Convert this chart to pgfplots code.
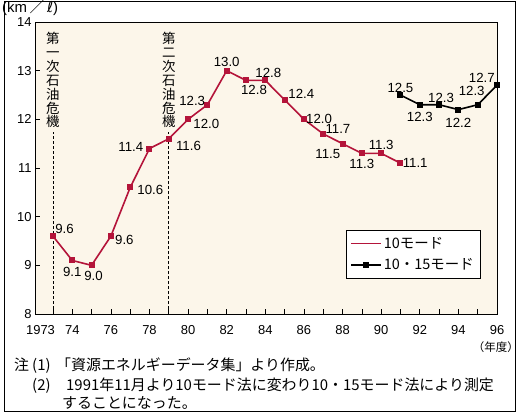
\documentclass[border=0pt]{standalone}
\usepackage{fontspec}
\setmainfont{Liberation Sans}
\newfontfamily\cjk{Noto Sans CJK JP}
\newfontfamily\dejavu{DejaVu Sans}
\usepackage{pgfplots}
\usepackage{pgfplotstable}
\pgfplotsset{compat=1.18}

\definecolor{tenred}{RGB}{180,20,58}
\definecolor{cream}{RGB}{252,246,234}

% fuel economy, km per litre
\pgfplotstableread{
year km
1973 9.6
1974 9.1
1975 9.0
1976 9.6
1977 10.6
1978 11.4
1979 11.6
1980 12.0
1981 12.3
1982 13.0
1983 12.8
1984 12.8
1985 12.4
1986 12.0
1987 11.7
1988 11.5
1989 11.3
1990 11.3
1991 11.1
}\modeten

\pgfplotstableread{
year km
1991 12.5
1992 12.3
1993 12.3
1994 12.2
1995 12.3
1996 12.7
}\modefifteen

% where each value label sits, point by point
\newcommand\tenpos[1]{\ifcase#1 %
  anchor=south west\or                     % 73
  anchor=north,yshift=-4bp\or              % 74
  anchor=north,xshift=2bp,yshift=-4bp\or   % 75
  anchor=west,xshift=2bp,yshift=-4bp\or    % 76
  anchor=west,xshift=5bp,yshift=-2bp\or    % 77
  anchor=east,xshift=-4bp,yshift=2bp\or    % 78
  anchor=west,xshift=5bp,yshift=-7bp\or    % 79
  anchor=west,xshift=3bp,yshift=-5bp\or    % 80
  anchor=east,yshift=4bp\or                % 81
  anchor=south,yshift=2bp\or               % 82
  anchor=north,xshift=8bp,yshift=-3bp\or   % 83
  anchor=south,xshift=3bp\or               % 84
  anchor=west,xshift=1.5bp,yshift=6bp\or   % 85
  anchor=west\or                           % 86
  anchor=west,yshift=5bp\or                % 87
  anchor=north east,yshift=-3.5bp\or       % 88
  anchor=north,yshift=-4bp\or              % 89
  anchor=south,yshift=1bp\or               % 90
  anchor=west\fi}                          % 91
\newcommand\fifpos[1]{\ifcase#1 %
  anchor=south\or                          % 91
  anchor=north,yshift=-5bp\or              % 92
  anchor=south,xshift=2bp\or               % 93
  anchor=north,yshift=-6bp\or              % 94
  anchor=south,xshift=-6bp,yshift=7bp\or   % 95
  anchor=south east\fi}                    % 96

\newcommand\lblfont{\fontsize{13.3}{15}\selectfont}
\newcommand\notefont{\cjk\fontsize{15}{18}\selectfont}

\begin{document}
\begin{tikzpicture}
\useasboundingbox (0,0) rectangle (520bp,-415bp);
\draw[line width=0.8bp] (4bp,-1bp) rectangle (515bp,-411bp);

\begin{axis}[
    at={(35bp,-314bp)}, anchor=south west,
    scale only axis, width=462bp, height=292bp,
    xmin=1972.07, xmax=1996, ymin=8, ymax=14,
    axis background/.style={fill=cream},
    axis line style={line width=0.8bp},
    xtick={1973,1974,1976,1978,1980,1982,1984,1986,1988,1990,1992,1994,1996},
    xticklabels={\makebox[4bp][r]{1973},74,76,78,80,82,84,86,88,90,92,94,96},
    minor xtick={1975,1977,1979,1981,1983,1985,1987,1989,1991,1993,1995},
    ytick={8,9,10,11,12,13,14},
    xtick pos=left, ytick pos=left,
    tick align=inside,
    major tick length=5bp, minor tick length=5bp,
    tick style={black, line width=0.6bp},
    tick label style={font=\fontsize{13}{15}\selectfont},
    xticklabel style={yshift=-8bp},
    /pgf/number format/assume math mode=true,
    clip=false,
    legend image code/.code={\draw[mark repeat=2, mark phase=2, #1]
        plot coordinates {(0bp,0bp) (15bp,0bp) (30bp,0bp)};},
    legend style={at={(0.963,0.288)}, anchor=north east,
        font=\cjk\fontsize{14.5}{16}\selectfont,
        row sep=5bp, inner xsep=4bp, inner ysep=5bp,
        nodes={inner xsep=2bp}},
    legend cell align=left,
]

\draw[dashed, dash pattern=on 3bp off 2bp, line width=0.6bp]
    (axis cs:1973,8) -- (axis cs:1973,11.75);
\draw[dashed, dash pattern=on 3bp off 2bp, line width=0.6bp]
    (axis cs:1979,8) -- (axis cs:1979,11.75);
\node[anchor=north, align=center, inner sep=0,
      font=\cjk\fontsize{13.5}{14}\selectfont]
    at (axis cs:1973,13.8) {第\\一\\次\\石\\油\\危\\機};
\node[anchor=north, align=center, inner sep=0,
      font=\cjk\fontsize{13.5}{14}\selectfont]
    at (axis cs:1979,13.8) {第\\二\\次\\石\\油\\危\\機};

\addplot[forget plot, tenred, line width=1.6bp, mark=square*, mark size=2.2bp,
    visualization depends on={value \coordindex\as\idx},
    nodes near coords={\pgfmathprintnumber[fixed,fixed zerofill,precision=1]{\pgfplotspointmeta}},
    every node near coord/.append style={text=black, font=\lblfont, inner sep=1.5bp,
        /utils/exec={\edef\lblkeys{\tenpos{\idx}}%
            \expandafter\pgfkeysalso\expandafter{\lblkeys}}}]
    table[x=year, y=km] {\modeten};

\addplot[forget plot, black, line width=1.6bp, mark=square*, mark size=2.2bp,
    visualization depends on={value \coordindex\as\idx},
    nodes near coords={\pgfmathprintnumber[fixed,fixed zerofill,precision=1]{\pgfplotspointmeta}},
    every node near coord/.append style={text=black, font=\lblfont, inner sep=1.5bp,
        /utils/exec={\edef\lblkeys{\fifpos{\idx}}%
            \expandafter\pgfkeysalso\expandafter{\lblkeys}}}]
    table[x=year, y=km] {\modefifteen};

\addlegendimage{color=tenred, line width=1.6bp, no markers}
\addlegendentry{10モード}
\addlegendimage{color=black, line width=1.6bp, mark=square*, mark size=2.2bp}
\addlegendentry{10・15モード}

\end{axis}

\node[anchor=west, inner sep=0, font=\fontsize{15}{16}\selectfont]
    at (2bp,-8bp) {(km\,{\cjk ／}\,{\dejavu ℓ})};
\node[anchor=east, inner sep=0, font=\cjk\fontsize{11.5}{12}\selectfont]
    at (519bp,-347bp) {（年度）};

\node[anchor=base west, inner sep=0, font=\notefont] at (14bp,-370.5bp) {注};
\node[anchor=base west, inner sep=0, font=\notefont] at (32bp,-370.5bp) {(1)};
\node[anchor=base west, inner sep=0, font=\notefont] at (56bp,-370.5bp) {「資源エネルギーデータ集」より作成。};
\node[anchor=base west, inner sep=0, font=\notefont] at (32bp,-390bp) {(2)};
\node[anchor=base west, inner sep=0, font=\notefont] at (66bp,-390bp) {1991年11月より10モード法に変わり10・15モード法により測定};
\node[anchor=base west, inner sep=0, font=\notefont] at (62bp,-408bp) {することになった。};
\end{tikzpicture}
\end{document}
